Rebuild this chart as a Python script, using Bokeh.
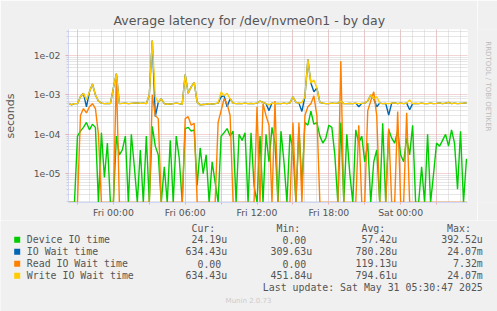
import numpy as np
import pandas as pd
from bokeh.plotting import figure
from bokeh.models import Range1d, FixedTicker, ColumnDataSource
from bokeh.layouts import column, row
from bokeh.embed import file_html
from bokeh.resources import INLINE
from bokeh.core.properties import value

# ---------------- data (microseconds, 15-minute samples) ----------------
START = "2025-05-29 20:15"
STEP = "15min"

device_io_us = [
    0, 0, 0, 90, 120, 150, 200, 130, 180, 150,
    0, 110, 8, 60, 0, 0, 90, 30, 40, 90,
    0, 100, 15, 0, 40, 0, 90, 0, 160, 50,
    30, 0, 15, 0, 70, 0, 90, 25, 0, 140,
    150, 120, 130, 5, 45, 10, 30, 0, 20, 6,
    0, 90, 110, 140, 90, 120, 0, 100, 70, 110,
    0, 110, 5, 0, 90, 0, 100, 20, 150, 60,
    0, 120, 20, 0, 100, 40, 0, 150, 5, 200,
    170, 390, 180, 200, 90, 60, 80, 170, 150, 30,
    0, 200, 0, 100, 10, 0, 130, 60, 90, 20,
    60, 0, 20, 40, 0, 190, 0, 130, 80, 60,
    120, 30, 20, 80, 30, 170, 0, 0, 15, 0,
    100, 0, 10, 60, 50, 70, 100, 50, 130, 60,
    4, 120, 0, 24,
]
io_wait_us = [
    620, 560, 600, 600, 900, 1100, 500, 1200, 1900, 1000,
    700, 620, 600, 610, 600, 1500, 3500, 600, 610, 620,
    600, 610, 620, 630, 610, 620, 600, 1000, 24070, 280,
    650, 800, 600, 580, 590, 600, 620, 600, 580, 3300,
    1100, 1600, 2100, 650, 560, 570, 580, 600, 590, 600,
    620, 900, 950, 500, 800, 620, 600, 610, 600, 620,
    600, 610, 600, 620, 700, 650, 600, 400, 620, 600,
    610, 600, 620, 600, 630, 900, 650, 620, 380, 900,
    8000, 2000, 1200, 1500, 650, 620, 600, 600, 620, 610,
    620, 700, 600, 600, 610, 600, 620, 500, 610, 620,
    700, 1000, 800, 500, 620, 600, 610, 310, 620, 630,
    600, 620, 600, 620, 420, 600, 610, 600, 620, 600,
    600, 620, 600, 610, 630, 600, 620, 650, 600, 620,
    600, 610, 620, 634,
]
read_wait_us = [
    0, 0, 0, 0, 300, 450, 350, 500, 600, 450,
    100, 0, 0, 0, 0, 0, 3300, 0, 0, 0,
    0, 0, 0, 0, 0, 0, 0, 0, 1000, 300,
    250, 0, 0, 0, 0, 0, 0, 0, 0, 250,
    280, 170, 190, 0, 0, 0, 0, 0, 0, 0,
    200, 400, 800, 600, 300, 0, 0, 0, 0, 0,
    0, 0, 0, 500, 0, 600, 300, 170, 0, 700,
    0, 0, 0, 0, 0, 200, 0, 200, 0, 300,
    500, 600, 950, 300, 0, 0, 0, 0, 0, 0,
    0, 7320, 0, 0, 0, 0, 0, 170, 0, 0,
    400, 700, 1200, 300, 0, 0, 0, 140, 0, 0,
    380, 0, 0, 350, 0, 0, 0, 0, 0, 0,
    0, 0, 0, 0, 0, 0, 0, 0, 0, 0,
    0, 0, 0, 0,
]
write_wait_us = [
    620, 560, 600, 600, 900, 1100, 750, 1200, 1900, 1000,
    700, 620, 600, 610, 600, 1500, 3500, 600, 610, 620,
    600, 610, 620, 630, 610, 620, 600, 1000, 24070, 900,
    650, 800, 600, 580, 590, 600, 620, 600, 580, 3300,
    1100, 1600, 2100, 650, 560, 570, 580, 600, 590, 600,
    620, 1200, 950, 1100, 800, 620, 600, 610, 600, 620,
    600, 610, 600, 620, 700, 650, 600, 560, 620, 600,
    610, 600, 620, 600, 630, 900, 650, 620, 650, 900,
    8000, 2000, 2400, 1500, 650, 620, 600, 600, 620, 610,
    620, 700, 600, 600, 610, 600, 620, 600, 610, 620,
    700, 1000, 800, 900, 620, 600, 610, 600, 620, 630,
    600, 620, 600, 620, 750, 600, 610, 600, 620, 600,
    600, 620, 600, 610, 630, 600, 620, 650, 600, 620,
    600, 610, 620, 634,
]

series_names = ["Device IO time", "IO Wait time", "Read IO Wait time", "Write IO Wait time"]
series_colors = ["#00CC00", "#0066B3", "#FF8000", "#FFCC00"]
cur_vals = ["24.19u", "634.43u", "0.00", "634.43u"]
min_vals = ["0.00", "309.63u", "0.00", "451.84u"]
avg_vals = ["57.42u", "780.28u", "119.13u", "794.61u"]
max_vals = ["392.52u", "24.07m", "7.32m", "24.07m"]
col_headers = ["Cur:", "Min:", "Avg:", "Max:"]

x_label_times = ["2025-05-30 00:00", "2025-05-30 06:00", "2025-05-30 12:00",
                 "2025-05-30 18:00", "2025-05-31 00:00"]
x_tick_labels = ["Fri 00:00", "Fri 06:00", "Fri 12:00", "Fri 18:00", "Sat 00:00"]
y_ticks = [1e-5, 1e-4, 1e-3, 1e-2]
y_tick_labels = ["1e-05", "1e-04", "1e-03", "1e-02"]

title_text = "Average latency for /dev/nvme0n1 - by day"
y_label = "seconds"
last_update = "Last update: Sat May 31 05:30:47 2025"
watermark = "Munin 2.0.73"
side_text = "RRDTOOL / TOBI OETIKER"

# ---------------- chart ----------------
YMIN, YMAX = 1.85e-6, 4.6e-2
X0 = pd.Timestamp("2025-05-29 20:15")
X1 = pd.Timestamp("2025-05-31 05:35")
FONT = "DejaVu Sans"
MONO = "DejaVu Sans Mono"
FONT_COLOR = "#555555"
BG = "#F0F0F0"
MAIN_H = 220
SIDE_W = 20


def to_ms(idx):
    return [float(pd.Timestamp(t).value / 1e6) for t in idx]


n = len(write_wait_us)
times = pd.date_range(START, periods=n, freq=STEP)


def floor_at_axis(us):
    return np.maximum(np.asarray(us, dtype=float) * 1e-6, YMIN)


src = ColumnDataSource(dict(
    t=times,
    dev=floor_at_axis(device_io_us),
    iow=floor_at_axis(io_wait_us),
    rd=floor_at_axis(read_wait_us),
    wr=floor_at_axis(write_wait_us),
))

p = figure(width=497 - SIDE_W, height=MAIN_H, x_axis_type="datetime", y_axis_type="log",
           x_range=Range1d(X0, X1), y_range=Range1d(YMIN, YMAX),
           output_backend="svg", toolbar_location=None,
           min_border_left=67, min_border_right=30 - SIDE_W, min_border_top=29,
           min_border_bottom=17,
           background_fill_color="#FFFFFF", border_fill_color=BG,
           outline_line_color=None)

# title
p.title.text = title_text
p.title.align = "left"
p.title.offset = 45
p.title.standoff = 4
p.title.text_font = FONT
p.title.text_font_size = "12.5px"
p.title.text_font_style = "normal"
p.title.text_color = FONT_COLOR

# x axis / grid
major_x = pd.date_range("2025-05-29 21:00", "2025-05-31 03:00", freq="3h")
minor_x = pd.date_range("2025-05-29 21:00", "2025-05-31 05:00", freq="1h")
major_ms = to_ms(major_x)
label_ms = to_ms(x_label_times)
overrides = {m: "" for m in major_ms}
for m, lab in zip(label_ms, x_tick_labels):
    overrides[m] = lab
p.xaxis.ticker = FixedTicker(ticks=major_ms)
p.xaxis.major_label_overrides = overrides
p.xgrid.ticker = FixedTicker(ticks=major_ms, minor_ticks=to_ms(minor_x))

# y axis / grid
minor_y = [k * 10.0 ** e for e in range(-6, -1) for k in range(2, 10)]
yticker = FixedTicker(ticks=y_ticks, minor_ticks=minor_y)
p.yaxis.ticker = yticker
p.yaxis.major_label_overrides = {v: s for v, s in zip(y_ticks, y_tick_labels)}
p.ygrid.ticker = yticker
p.yaxis.axis_label = y_label
p.yaxis.axis_label_text_font = FONT
p.yaxis.axis_label_text_font_size = "11px"
p.yaxis.axis_label_text_font_style = "normal"
p.yaxis.axis_label_text_color = FONT_COLOR
p.yaxis.axis_label_standoff = 14

for ax in (p.xaxis[0], p.yaxis[0]):
    ax.axis_line_color = "#CFD6F8"
    ax.major_label_text_font = FONT
    ax.major_label_text_font_size = "9.3px"
    ax.major_label_text_color = FONT_COLOR
    ax.major_tick_in = 0
    ax.major_tick_line_color = "#E8B0B0"
    ax.minor_tick_in = 0
    ax.minor_tick_out = 2
    ax.minor_tick_line_color = "#D0D0D0"

p.xaxis.major_tick_out = 2
p.xaxis.major_label_standoff = 2
p.xaxis.minor_tick_line_color = None
p.yaxis.major_tick_out = 3
p.yaxis.major_label_standoff = 5

for g in (p.xgrid[0], p.ygrid[0]):
    g.grid_line_color = "#E8A8A8"
    g.grid_line_dash = "1 1"
    g.grid_line_width = 1
    g.minor_grid_line_color = "#CCCCCC"
    g.minor_grid_line_dash = "1 1"
    g.minor_grid_line_width = 1

# series, drawn in munin order
for col, color in zip(["dev", "iow", "rd", "wr"], series_colors):
    p.line("t", col, source=src, line_color=color, line_width=1.4)

# ---------------- right strip with the rrdtool credit ----------------
side = figure(width=SIDE_W, height=MAIN_H, x_range=Range1d(0, SIDE_W), y_range=Range1d(MAIN_H, 0),
              output_backend="svg", toolbar_location=None, min_border=0,
              background_fill_color=BG, border_fill_color=BG, outline_line_color=None)
side.title = None
side.axis.visible = False
side.grid.visible = False
side.text(x=[10], y=[15], text=[side_text], angle=-np.pi / 2, text_font=value(FONT),
          text_font_size="7px", text_color="#BBBBBB", text_align="left", text_baseline="middle")

# ---------------- legend panel ----------------
LEG_H = 311 - MAIN_H
leg = figure(width=497, height=LEG_H, x_range=Range1d(0, 497), y_range=Range1d(LEG_H, 0),
             output_backend="svg", toolbar_location=None, min_border=0,
             background_fill_color=BG, border_fill_color=BG, outline_line_color=None)
leg.title = None
leg.axis.visible = False
leg.grid.visible = False

CHW = 5.96
row_y = [19.3 + 12 * k for k in range(len(series_names))]
col_right = [226.7, 311.7, 396.7, 482.3]

leg.rect(x=[16.7] * 4, y=row_y, width=6, height=6, fill_color=series_colors, line_color=None)
leg.text(x=[26.3] * 4, y=row_y, text=series_names, text_font=value(MONO),
         text_font_size="9.9px", text_color=FONT_COLOR, text_align="left", text_baseline="middle")

vx, vy, vt = [], [], []
for cr, vals in zip(col_right, [cur_vals, min_vals, avg_vals, max_vals]):
    for yy, s in zip(row_y, vals):
        vx.append(cr - (0 if s[-1].isalpha() else CHW))
        vy.append(yy)
        vt.append(s)
leg.text(x=vx, y=vy, text=vt, text_font=value(MONO), text_font_size="9.9px",
         text_color=FONT_COLOR, text_align="right", text_baseline="middle")

leg.text(x=[cr - 6 * CHW for cr in col_right], y=[8] * 4, text=col_headers,
         text_font=value(MONO), text_font_size="9.9px", text_color=FONT_COLOR,
         text_align="left", text_baseline="middle")
leg.text(x=[482.3], y=[67], text=[last_update], text_font=value(MONO), text_font_size="9.9px",
         text_color=FONT_COLOR, text_align="right", text_baseline="middle")
leg.text(x=[248], y=[80], text=[watermark], text_font=value(FONT), text_font_size="7px",
         text_color="#CCCCCC", text_align="center", text_baseline="middle")

layout = column(row(p, side, spacing=0), leg, spacing=0)
open("out.html", "w").write(file_html(layout, INLINE))
